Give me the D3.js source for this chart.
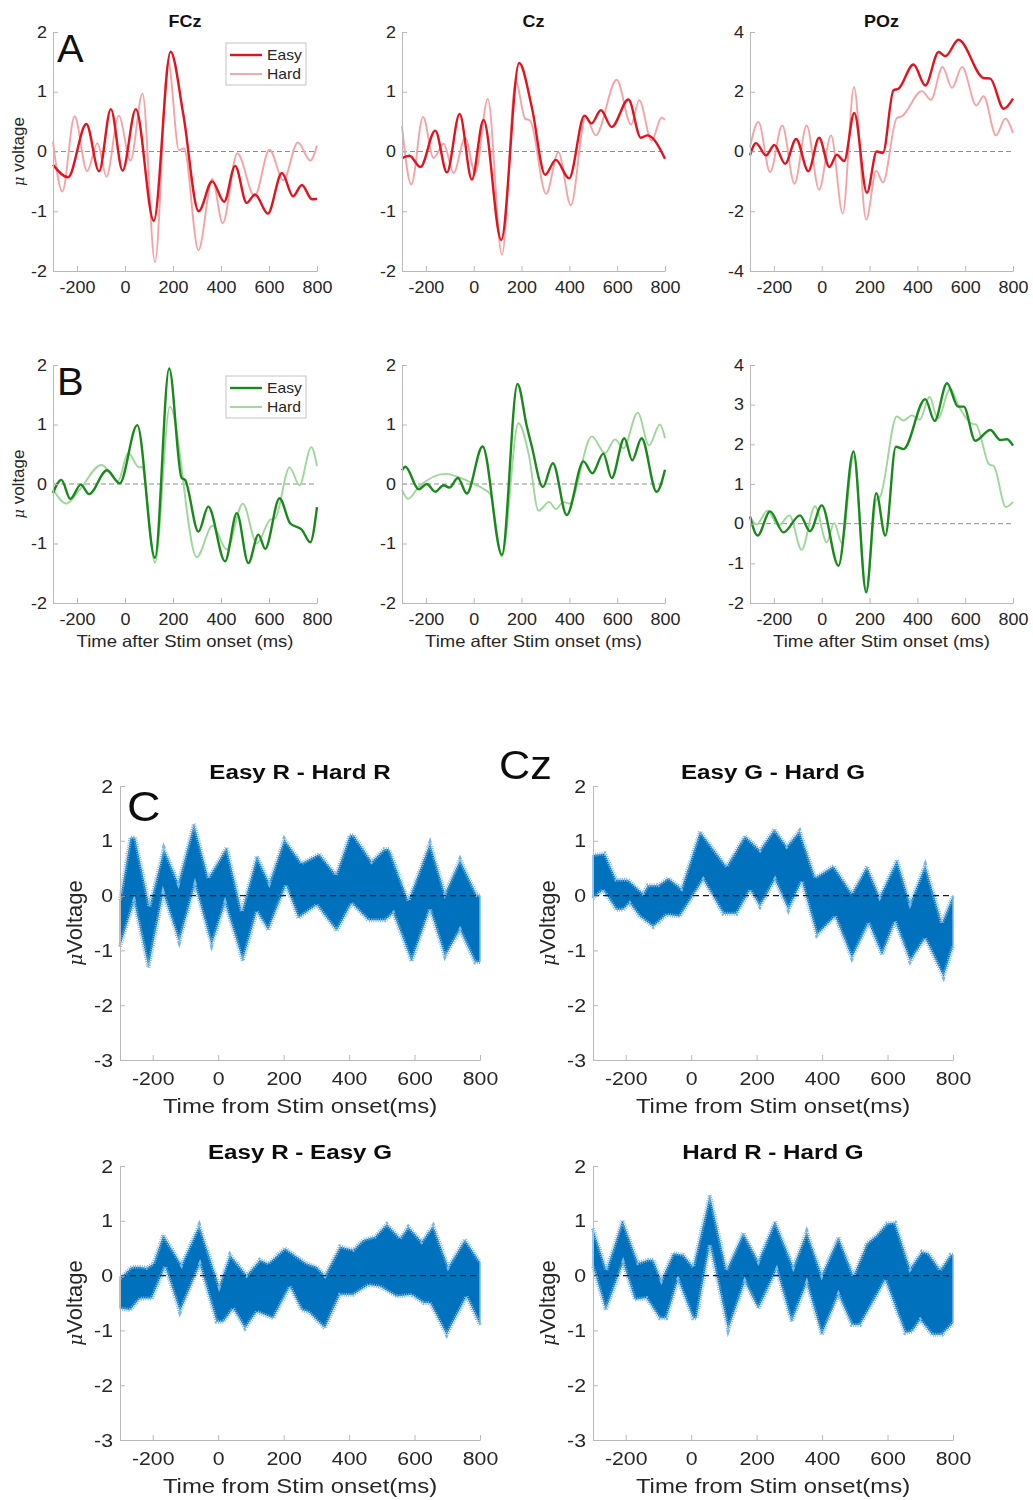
<!DOCTYPE html>
<html>
<head>
<meta charset="utf-8">
<script src="https://cdn.jsdelivr.net/npm/d3@7"></script>
<style>
  body { margin: 0; background: #fff; }
  svg { display: block; }
  text { font-family: "Liberation Sans", Arial, Helvetica, sans-serif; }
</style>
</head>
<body>
<svg id="fig" width="1033" height="1500"></svg>
<script>
// ---------- tick values ----------
const timeTicks = [-200, 0, 200, 400, 600, 800];
const voltTicks2 = [-2, -1, 0, 1, 2];
const voltTicks4 = [-4, -2, 0, 2, 4];
const voltTicksPozB = [-2, -1, 0, 1, 2, 3, 4];
const voltTicksDiff = [-3, -2, -1, 0, 1, 2];

// ---------- A: red condition, grand-average ERPs [ms, µV] ----------
const fczEasyR = [[-300,-0.22],[-237,-0.43],[-161,0.46],[-108,-0.33],[-59,0.71],[-10,-0.32],[45,0.71],[120,-1.16],[190,1.67],[243,0.62],[307,-1.0],[363,-0.5],[413,-0.84],[459,-0.24],[507,-0.86],[542,-0.72],[595,-1.04],[654,-0.36],[700,-0.75],[737,-0.56],[779,-0.8],[800,-0.79]];
const fczHardR = [[-300,0.16],[-261,-0.67],[-210,0.59],[-158,-0.33],[-115,0.14],[-77,-0.42],[-26,0.6],[23,-0.15],[73,0.97],[125,-1.85],[180,1.5],[225,0.02],[246,0.05],[306,-1.65],[364,-0.46],[407,-1.2],[468,-0.03],[540,-0.75],[602,0.03],[660,-0.48],[720,0.15],[772,-0.15],[800,0.1]];
const czEasyR = [[-300,-0.11],[-269,-0.07],[-223,-0.26],[-161,0.35],[-112,-0.35],[-59,0.63],[-8,-0.47],[41,0.53],[115,-1.48],[190,1.48],[243,0.74],[299,-0.39],[343,-0.14],[399,-0.45],[463,0.6],[493,0.47],[532,0.69],[577,0.41],[647,0.87],[699,0.23],[727,0.27],[800,-0.12]];
const czHardR = [[-300,0.42],[-261,-0.55],[-212,0.58],[-168,-0.11],[-126,0.13],[-84,-0.36],[-36,0.23],[6,-0.36],[59,0.88],[118,-1.73],[176,1.17],[215,0.55],[236,0.52],[303,-0.71],[354,-0.01],[406,-0.9],[468,0.59],[510,0.27],[598,1.2],[658,0.45],[692,0.86],[744,0.18],[786,0.57],[800,0.53]];
const pozEasyR = [[-300,-0.13],[-275,0.28],[-233,-0.13],[-198,0.22],[-153,-0.41],[-107,0.42],[-56,-0.66],[-11,0.46],[32,-0.52],[63,-0.11],[94,-0.32],[136,1.29],[189,-1.38],[230,0.0],[256,-0.05],[300,2.05],[321,2.1],[384,2.91],[433,2.21],[489,3.33],[517,3.19],[572,3.74],[677,2.46],[705,2.44],[761,1.43],[800,1.77]];
const pozHardR = [[-300,0.15],[-265,0.99],[-216,-0.69],[-165,0.87],[-114,-1.08],[-63,0.87],[-11,-1.28],[39,0.54],[88,-2.08],[135,2.15],[186,-2.28],[228,-0.65],[256,-1.03],[314,1.12],[335,1.18],[419,2.02],[457,1.73],[505,2.83],[545,2.13],[587,2.83],[647,1.54],[677,1.85],[729,0.54],[768,1.1],[800,0.62]];

// ---------- B: green condition ----------
const fczEasyG = [[-300,-0.15],[-265,0.07],[-228,-0.25],[-184,-0.01],[-150,-0.17],[-75,0.23],[-22,0.01],[51,0.99],[125,-1.24],[184,1.94],[236,0.1],[250,0.07],[306,-0.8],[347,-0.38],[417,-1.3],[466,-0.49],[514,-1.33],[556,-0.85],[584,-1.09],[644,-0.24],[688,-0.66],[737,-0.77],[772,-0.98],[800,-0.39]];
const fczHardG = [[-300,-0.09],[-244,-0.33],[-190,-0.1],[-98,0.32],[-29,0.05],[13,0.52],[59,0.28],[70,0.29],[125,-1.32],[187,1.3],[299,-1.23],[365,-0.7],[424,-1.1],[491,-0.33],[549,-1.0],[605,-0.6],[625,-0.58],[686,0.28],[727,-0.02],[776,0.62],[800,0.3]];
const czEasyG = [[-300,0.23],[-286,0.29],[-230,-0.09],[-196,0.0],[-161,-0.13],[-126,-0.02],[-102,-0.06],[-66,0.1],[-29,-0.16],[37,0.63],[118,-1.19],[183,1.68],[222,0.97],[243,0.63],[289,-0.05],[331,0.35],[389,-0.52],[459,0.38],[496,0.18],[542,0.51],[577,0.1],[630,0.77],[663,0.4],[702,0.77],[765,-0.13],[800,0.24]];
const czHardG = [[-300,-0.1],[-275,-0.25],[-230,-0.05],[-119,0.17],[-35,0.07],[0,0.0],[40,-0.08],[69,-0.17],[118,-1.22],[187,1.02],[230,0.5],[271,-0.45],[315,-0.3],[344,-0.42],[375,-0.3],[400,-0.33],[494,0.8],[549,0.52],[591,0.75],[626,0.6],[686,1.2],[733,0.65],[779,1.0],[800,0.77]];
const pozEasyG = [[-300,0.18],[-268,-0.3],[-216,0.31],[-160,-0.22],[-91,0.21],[-49,-0.19],[0,0.46],[70,-1.06],[133,1.82],[186,-1.73],[228,0.77],[266,-0.3],[310,1.94],[342,1.88],[433,3.14],[472,2.59],[524,3.54],[570,2.95],[594,2.95],[642,2.09],[705,2.36],[747,2.11],[775,2.13],[800,1.97]];
const pozHardG = [[-300,0.18],[-272,-0.02],[-227,0.33],[-181,-0.05],[-135,0.21],[-84,-0.66],[-28,0.44],[21,-0.47],[52,0.02],[84,-0.49],[133,1.7],[186,-1.65],[228,0.6],[245,0.69],[314,2.7],[342,2.6],[377,2.73],[410,2.62],[451,3.2],[485,2.65],[538,3.4],[570,3.0],[628,2.52],[645,2.5],[700,1.5],[720,1.45],[770,0.42],[800,0.55]];

// ---------- C: difference waves at Cz, upper / lower error bounds ----------
const easyRHardRUp = [[-300,-0.08],[-268,1.06],[-254,1.06],[-210,-0.2],[-166,0.86],[-122,0.23],[-74,1.31],[-30,0.32],[26,0.88],[72,-0.29],[118,0.72],[156,0.23],[202,1.03],[255,0.59],[309,0.76],[360,0.38],[402,1.1],[414,1.1],[469,0.62],[508,0.85],[522,0.85],[581,-0.09],[647,0.96],[693,0.04],[739,0.66],[790,0.01],[800,0.0]];
const easyRHardRLo = [[-300,-0.93],[-257,-0.11],[-213,-1.31],[-168,0.04],[-119,-0.84],[-71,0.19],[-20,-0.9],[21,-0.14],[75,-1.19],[118,-0.29],[153,-0.63],[207,0.19],[245,-0.41],[301,-0.17],[362,-0.64],[408,-0.14],[459,-0.45],[510,-0.45],[535,-0.32],[591,-1.2],[647,-0.25],[693,-1.11],[739,-0.63],[785,-1.22],[800,-1.21]];
const easyGHardGUp = [[-300,0.74],[-264,0.77],[-229,0.29],[-193,0.29],[-147,0.04],[-132,0.19],[-101,0.19],[-70,0.32],[-30,0.13],[27,1.17],[108,0.53],[164,1.09],[210,0.83],[254,1.21],[292,0.9],[331,1.18],[379,0.33],[435,0.54],[491,0.04],[537,0.53],[576,-0.02],[629,0.65],[669,-0.14],[715,0.56],[766,-0.5],[800,0.0]];
const easyGHardGLo = [[-300,-0.05],[-269,0.1],[-229,-0.26],[-208,-0.26],[-188,-0.14],[-157,-0.38],[-116,-0.57],[-75,-0.35],[-35,-0.38],[37,0.29],[98,-0.33],[139,-0.33],[180,0.1],[210,-0.2],[256,0.29],[297,-0.26],[338,0.26],[384,-0.72],[440,-0.38],[491,-1.14],[542,-0.5],[583,-1.08],[623,-0.47],[669,-1.2],[715,-0.78],[771,-1.48],[800,-0.93]];
const easyREasyGUp = [[-300,-0.05],[-264,0.16],[-239,0.16],[-219,0.14],[-198,0.22],[-168,0.74],[-112,0.2],[-58,0.92],[3,-0.19],[36,0.38],[87,0.01],[128,0.29],[153,0.22],[204,0.5],[270,0.22],[301,0.16],[326,0.0],[372,0.53],[413,0.47],[443,0.65],[479,0.71],[515,0.94],[556,0.68],[581,0.89],[622,0.62],[657,0.91],[703,0.16],[754,0.66],[800,0.25]];
const easyREasyGLo = [[-300,-0.6],[-269,-0.63],[-239,-0.42],[-203,-0.42],[-162,0.16],[-117,-0.66],[-56,0.2],[-5,-0.84],[16,-0.84],[46,-0.6],[82,-0.96],[118,-0.66],[168,-0.78],[219,-0.2],[255,-0.63],[275,-0.66],[326,-0.96],[372,-0.35],[413,-0.35],[459,-0.17],[494,-0.2],[545,-0.38],[591,-0.35],[627,-0.5],[647,-0.5],[698,-1.08],[759,-0.38],[800,-0.9]];
const hardRHardGUp = [[-300,0.86],[-259,0.1],[-210,1.01],[-162,0.23],[-132,0.29],[-116,0.29],[-91,-0.08],[-55,0.41],[-24,0.38],[6,0.16],[57,1.47],[108,0.1],[159,0.78],[205,0.26],[256,0.99],[312,0.16],[353,0.8],[399,0.01],[450,0.7],[496,0.0],[537,0.59],[567,0.74],[598,0.95],[623,0.97],[669,0.13],[705,0.44],[725,0.41],[761,0.1],[792,0.38],[800,0.38]];
const hardRHardGLo = [[-300,0.16],[-261,-0.63],[-208,0.23],[-172,-0.44],[-137,-0.41],[-96,-0.78],[-76,-0.78],[-40,-0.08],[6,-0.78],[16,-0.78],[57,0.56],[113,-0.99],[164,-0.11],[205,-0.6],[261,0.1],[307,-0.84],[353,-0.14],[399,-1.08],[450,-0.35],[491,-0.9],[516,-0.9],[593,-0.08],[654,-1.05],[675,-1.02],[700,-0.81],[736,-1.08],[766,-1.08],[800,-0.87]];

// ---------- styling ----------
const SX = 1.12;              // horizontal glyph stretch
const RED = "#e3121c", PINK = "#f5a3a6";
const GREEN = "#19891c", LIGHTGREEN = "#9ed79a";
const BAND = "#0072bd", BAND_EDGE = "#7ab7e4";
const AXIS = "#b9b9b9", INK = "#262626";
const tickFmt = d => String(d);   // plain hyphen minus, no decimals

const svg = d3.select("#fig");
const defs = svg.append("defs");
defs.append("filter").attr("id", "soft")
  .append("feGaussianBlur").attr("stdDeviation", 0.45);

function stretchedText(g, str, x, y, size, opts = {}) {
  return g.append("text")
    .attr("transform", `translate(${x},${y}) scale(${opts.sx ?? SX},1)`)
    .attr("text-anchor", opts.anchor || "middle")
    .attr("font-size", size)
    .attr("font-weight", opts.bold ? "bold" : "normal")
    .attr("fill", opts.fill || INK)
    .text(str);
}

function muLabel(g, rest, x, y, size) {
  const t = g.append("text")
    .attr("transform", `translate(${x},${y}) rotate(-90)`)
    .attr("text-anchor", "middle")
    .attr("font-size", size)
    .attr("fill", INK);
  t.append("tspan").attr("font-style", "italic").attr("font-family", "DejaVu Serif, serif")
    .attr("font-size", size * 0.85).text("\u03bc");
  t.append("tspan").text(rest);
  return t;
}

function styleAxes(g, x, y, cfg) {
  const ax = g.append("g").attr("transform", `translate(0,${cfg.height})`)
    .call(d3.axisBottom(x).tickValues(timeTicks).tickFormat(tickFmt)
      .tickSize(-cfg.tick).tickSizeOuter(0).tickPadding(cfg.padX));
  const ay = g.append("g")
    .call(d3.axisLeft(y).tickValues(cfg.yTicks).tickFormat(tickFmt)
      .tickSize(-cfg.tick).tickSizeOuter(0).tickPadding(cfg.padY));
  [ax, ay].forEach(a => {
    a.select(".domain").attr("stroke", AXIS).attr("stroke-width", 1);
    a.selectAll(".tick line").attr("stroke", AXIS);
    a.selectAll(".tick text").attr("fill", INK).attr("font-size", cfg.tickFont)
      .attr("font-family", "Liberation Sans, Arial, sans-serif");
  });
  ax.selectAll(".tick text").attr("transform", `scale(${SX},1)`);
  ay.selectAll(".tick text").attr("x", -cfg.padY / SX).attr("transform", `scale(${SX},1)`);
}

// ---------- ERP panels (rows A and B) ----------
function erpPanel(cfg) {
  const g = svg.append("g").attr("transform", `translate(${cfg.left},${cfg.top})`);
  const x = d3.scaleLinear().domain([-300, 800]).range([0, cfg.width]);
  const y = d3.scaleLinear().domain(cfg.yDomain).range([cfg.height, 0]);

  g.append("line").attr("x1", 0).attr("x2", cfg.width).attr("y1", y(0)).attr("y2", y(0))
    .attr("stroke", "#8f8f8f").attr("stroke-width", 1).attr("stroke-dasharray", "5,3");

  const line = d3.line().x(d => x(d[0])).y(d => y(d[1])).curve(d3.curveMonotoneX);
  g.append("path").datum(cfg.hard).attr("d", line)
    .attr("fill", "none").attr("stroke", cfg.hardColor).attr("stroke-width", 1.9);
  g.append("path").datum(cfg.easy).attr("d", line)
    .attr("fill", "none").attr("stroke", cfg.easyColor).attr("stroke-width", 2.4);

  styleAxes(g, x, y, { height: cfg.height, yTicks: cfg.yTicks, tick: 5, padX: 11, padY: 6, tickFont: 16 });

  if (cfg.title) stretchedText(g, cfg.title, cfg.width / 2, -5, 16, { bold: true, fill: "#111" });
  if (cfg.xlabel) stretchedText(g, cfg.xlabel, cfg.width / 2, cfg.height + 44, 16.5);
  if (cfg.ylabel) muLabel(g, " voltage", -29, cfg.height / 2, 17);
  if (cfg.letter) stretchedText(g, cfg.letter, 4, 30, 38, { anchor: "start", sx: 1.05, fill: "#111" });
  if (cfg.legend) {
    const lg = g.append("g").attr("transform", "translate(173,11)");
    lg.append("rect").attr("width", 80).attr("height", 42)
      .attr("fill", "#fff").attr("stroke", "#c4c4c4").attr("stroke-width", 1);
    [["Easy", cfg.easyColor, 2.4, 12], ["Hard", cfg.hardColor, 1.9, 31]].forEach(([name, col, w, yy]) => {
      lg.append("line").attr("x1", 4).attr("x2", 36).attr("y1", yy).attr("y2", yy)
        .attr("stroke", col).attr("stroke-width", w);
      stretchedText(lg, name, 41, yy + 5, 14, { anchor: "start" });
    });
  }
}

const colsX = [53, 402, 750];
const plotW = 264;
const rowA = { top: 32, height: 239 };
const rowB = { top: 365, height: 238 };

erpPanel({ left: colsX[0], top: rowA.top, width: plotW, height: rowA.height, yDomain: [-2, 2], yTicks: voltTicks2,
  easy: fczEasyR, hard: fczHardR, easyColor: RED, hardColor: PINK, title: "FCz", ylabel: true, letter: "A", legend: true });
erpPanel({ left: colsX[1], top: rowA.top, width: plotW - 1, height: rowA.height, yDomain: [-2, 2], yTicks: voltTicks2,
  easy: czEasyR, hard: czHardR, easyColor: RED, hardColor: PINK, title: "Cz" });
erpPanel({ left: colsX[2], top: rowA.top, width: plotW - 1, height: rowA.height, yDomain: [-4, 4], yTicks: voltTicks4,
  easy: pozEasyR, hard: pozHardR, easyColor: RED, hardColor: PINK, title: "POz" });

erpPanel({ left: colsX[0], top: rowB.top, width: plotW, height: rowB.height, yDomain: [-2, 2], yTicks: voltTicks2,
  easy: fczEasyG, hard: fczHardG, easyColor: GREEN, hardColor: LIGHTGREEN, xlabel: "Time after Stim onset (ms)", ylabel: true, letter: "B", legend: true });
erpPanel({ left: colsX[1], top: rowB.top, width: plotW - 1, height: rowB.height, yDomain: [-2, 2], yTicks: voltTicks2,
  easy: czEasyG, hard: czHardG, easyColor: GREEN, hardColor: LIGHTGREEN, xlabel: "Time after Stim onset (ms)" });
erpPanel({ left: colsX[2], top: rowB.top, width: plotW - 1, height: rowB.height, yDomain: [-2, 4], yTicks: voltTicksPozB,
  easy: pozEasyG, hard: pozHardG, easyColor: GREEN, hardColor: LIGHTGREEN, xlabel: "Time after Stim onset (ms)" });

// ---------- difference-wave panels (C) ----------
const cLayer = svg.append("g").attr("filter", "url(#soft)");

function diffPanel(cfg) {
  const g = cLayer.append("g").attr("transform", `translate(${cfg.left},${cfg.top})`);
  const W = 360, H = 274;
  const x = d3.scaleLinear().domain([-300, 800]).range([0, W]);
  const y = d3.scaleLinear().domain([-3, 2]).range([H, 0]);
  const line = d3.line().x(d => x(d[0])).y(d => y(d[1]));

  const outline = cfg.upper.concat(cfg.lower.slice().reverse());
  g.append("path").attr("d", line(outline) + "Z").attr("fill", BAND).attr("stroke", "none");
  // error-bar caps along both bounds, drawn as a fine dashed fringe
  [cfg.upper, cfg.lower].forEach(edge => {
    g.append("path").datum(edge).attr("d", line)
      .attr("fill", "none").attr("stroke", BAND_EDGE).attr("stroke-width", 4)
      .attr("stroke-dasharray", "1,1.2");
  });
  // vertical error bars closing both ends of the band
  [[cfg.upper[0], cfg.lower[0]], [cfg.upper[cfg.upper.length - 1], cfg.lower[cfg.lower.length - 1]]].forEach(([u, l]) => {
    g.append("line").attr("x1", x(u[0])).attr("x2", x(l[0])).attr("y1", y(u[1])).attr("y2", y(l[1]))
      .attr("stroke", BAND_EDGE).attr("stroke-width", 1.5);
  });

  g.append("line").attr("x1", 0).attr("x2", W).attr("y1", y(0)).attr("y2", y(0))
    .attr("stroke", "#1d1d1d").attr("stroke-width", 1.2).attr("stroke-dasharray", "6,4");

  styleAxes(g, x, y, { height: H, yTicks: voltTicksDiff, tick: 5, padX: 12, padY: 7, tickFont: 19 });

  stretchedText(g, cfg.title, W / 2, -7, 20.5, { bold: true, fill: "#111", sx: 1.18 });
  stretchedText(g, "Time from Stim onset(ms)", W / 2, H + 53, 21, { sx: 1.14 });
  muLabel(g, "Voltage", -38, H / 2, 22);
}

diffPanel({ left: 120, top: 786, title: "Easy R - Hard R", upper: easyRHardRUp, lower: easyRHardRLo });
diffPanel({ left: 593, top: 786, title: "Easy G - Hard G", upper: easyGHardGUp, lower: easyGHardGLo });
diffPanel({ left: 120, top: 1166, title: "Easy R - Easy G", upper: easyREasyGUp, lower: easyREasyGLo });
diffPanel({ left: 593, top: 1166, title: "Hard R - Hard G", upper: hardRHardGUp, lower: hardRHardGLo });

stretchedText(cLayer, "C", 127, 821, 43, { anchor: "start", sx: 1.08, fill: "#111" });
stretchedText(cLayer, "Cz", 499, 779, 40, { anchor: "start", sx: 1.08, fill: "#111" });
</script>
</body>
</html>
